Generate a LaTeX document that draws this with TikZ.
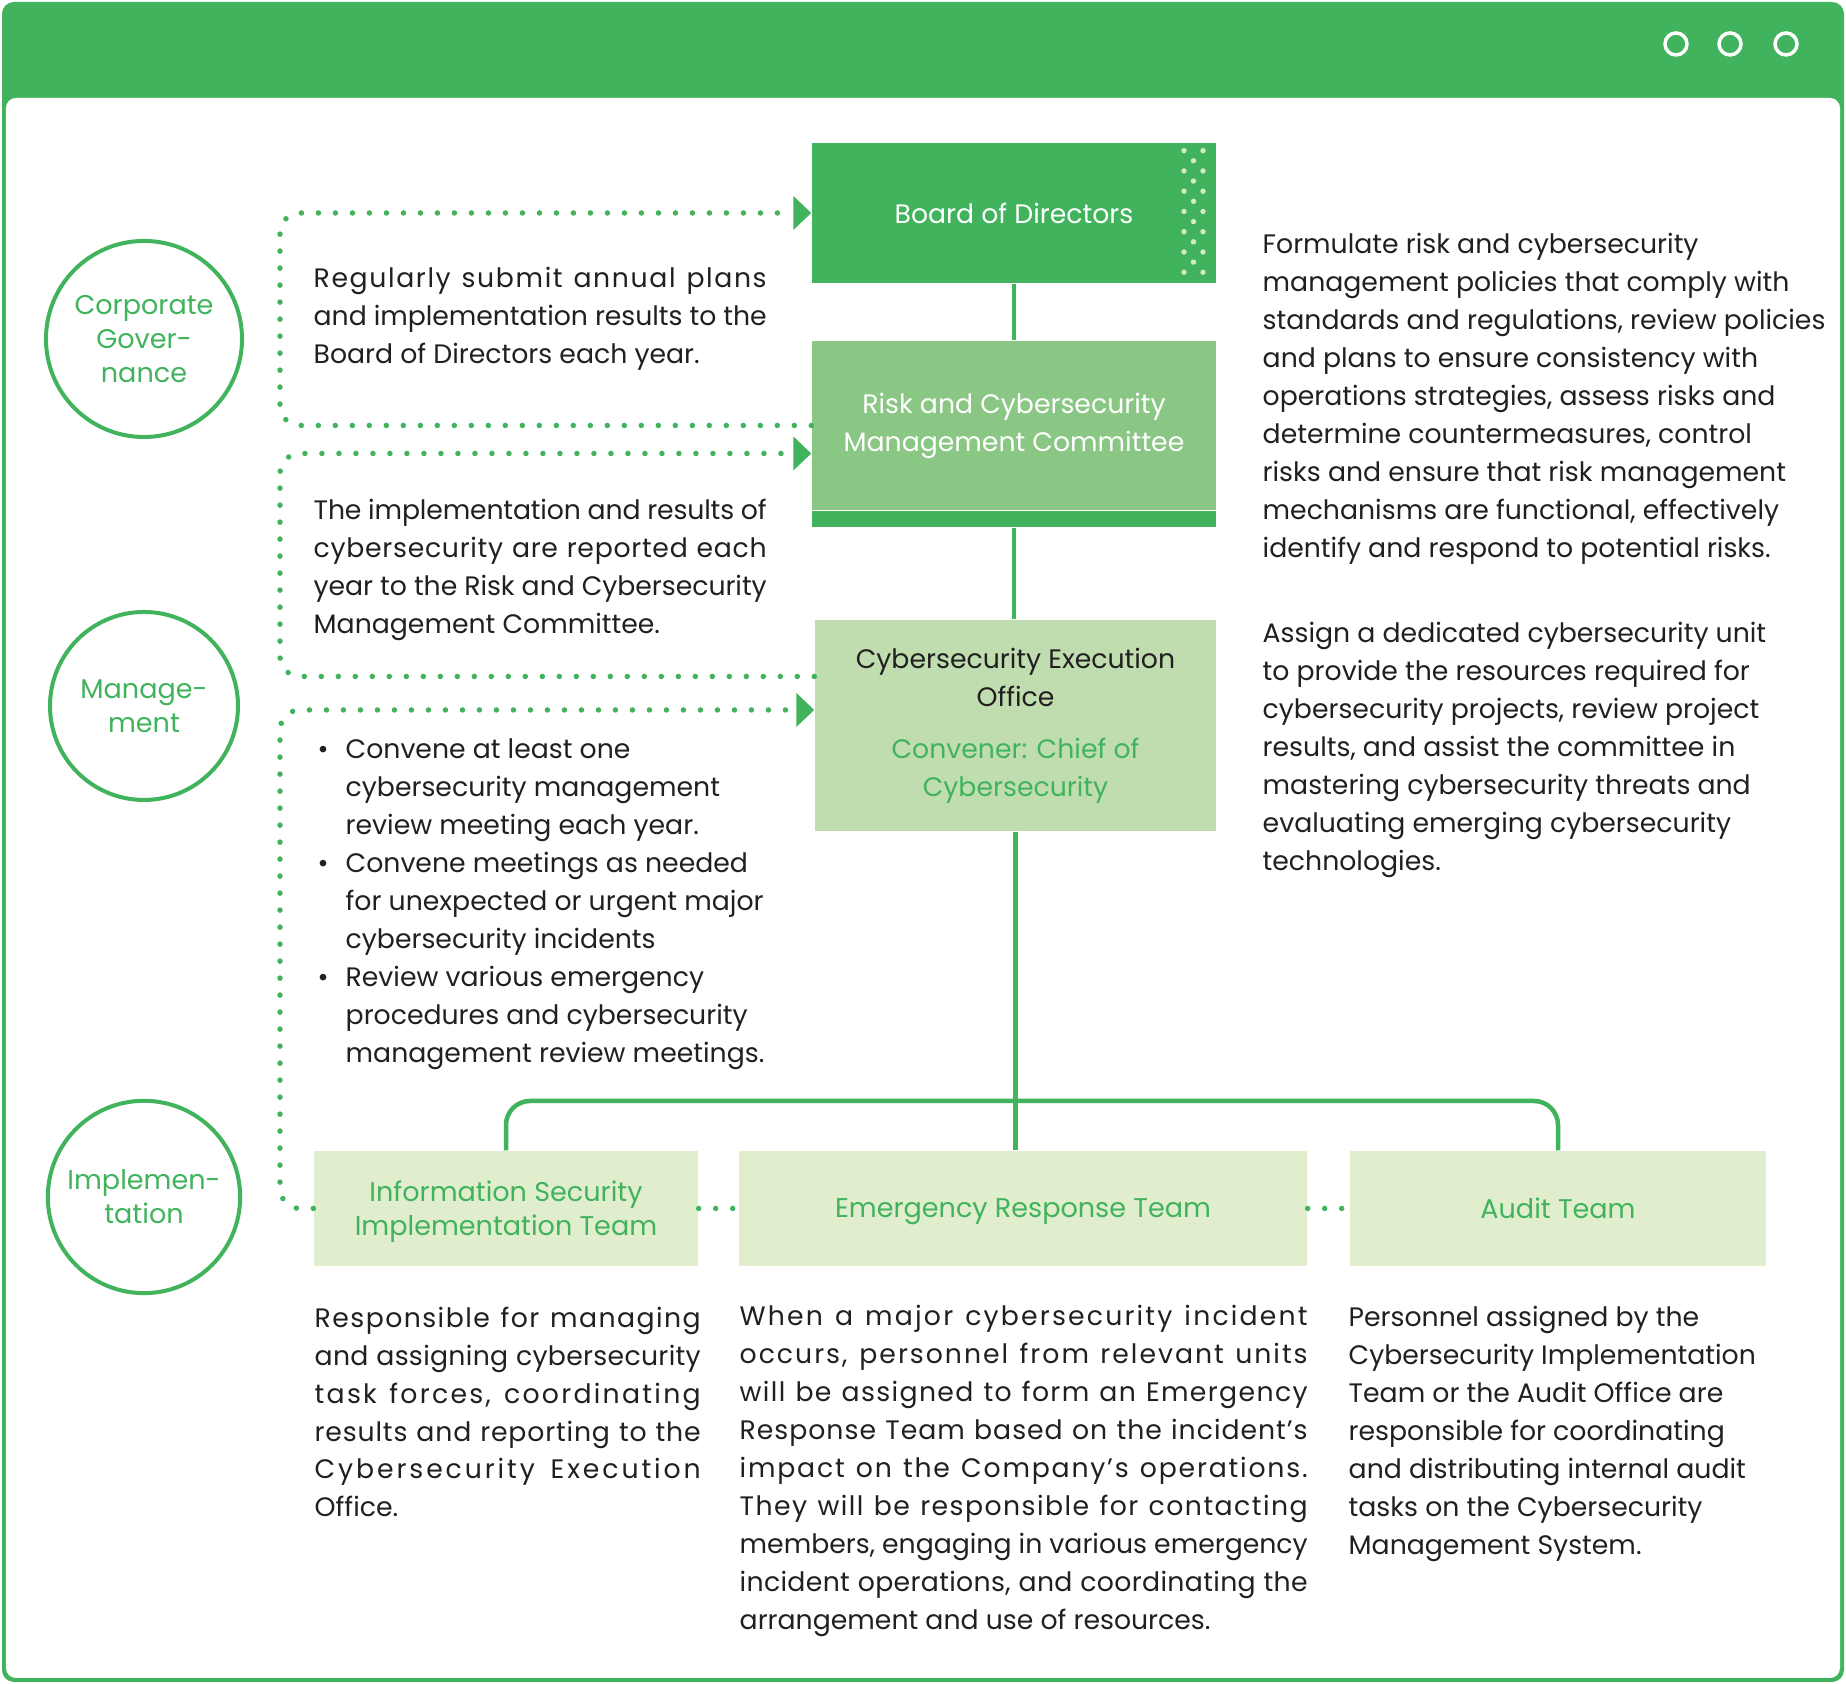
\documentclass[tikz,border=0pt]{standalone}
\usepackage{fontspec}
\setmainfont{Poppins}
\usepackage{tikz}
\usetikzlibrary{positioning,arrows.meta}
\definecolor{MainGreen}{RGB}{65,179,93}
\definecolor{MidGreen}{RGB}{139,199,132}
\definecolor{PaleGreen}{RGB}{192,221,176}
\definecolor{LightGreen}{RGB}{224,238,206}
\definecolor{DotGreen}{RGB}{214,234,196}
\definecolor{TextDark}{RGB}{35,31,32}
\newcommand{\bodyfont}{\fontsize{7.6}{10.8}\selectfont}
\newcommand{\tagfont}{\fontsize{7.7}{9.7}\selectfont}
\ExplSyntaxOn
\cs_new:Npn \jlcount #1 { \str_count:n {#1} }
\ExplSyntaxOff
% justified line, spread by tracking
\newlength{\jlw}
\newcommand{\jl}[2]{%
	\settowidth{\jlw}{#2}%
	\pgfmathsetmacro{\jls}{100*(#1-\jlw)/\jlcount{#2}/7.6}%
	{\addfontfeature{LetterSpace=\jls}\makebox[#1][s]{#2}}}
\newcommand{\bul}{\llap{\textbullet\hspace{0.17cm}}}

\begin{document}
\begin{tikzpicture}[
			board node/.style={
				rectangle, fill=MainGreen, text=white, align=center,
				inner sep=0pt, minimum width=4.04cm, minimum height=1.40cm,
				font=\bodyfont},
			committee node/.style={
				rectangle, fill=MidGreen, text=white, align=center,
				inner sep=0pt, minimum width=4.04cm, minimum height=1.69cm,
				font=\bodyfont},
			bar node/.style={
				rectangle, fill=MainGreen, inner sep=0pt,
				minimum width=4.04cm, minimum height=0.16cm},
			office node/.style={
				rectangle, fill=PaleGreen, text=TextDark, align=center,
				inner sep=0pt, minimum width=4.01cm, minimum height=2.11cm,
				font=\bodyfont},
			team node/.style={
				rectangle, fill=LightGreen, text=MainGreen, align=center,
				inner sep=0pt, minimum height=1.15cm, text depth=0pt,
				font=\tagfont},
			level node/.style={
				circle, draw=MainGreen, line width=0.04cm, text=MainGreen,
				align=center, minimum size=1.88cm, font=\tagfont},
			note node/.style={
				anchor=west, align=left, inner sep=0pt, text=TextDark,
				font=\bodyfont},
			link/.style={draw=MainGreen, line width=0.045cm},
			dots/.style={draw=MainGreen, line width=0.055cm, line cap=round,
				dash pattern=on 0pt off 0.17cm, rounded corners=0.2cm},
			tip/.style={-{Triangle[length=0.18cm,width=0.33cm]}}
			]
			\useasboundingbox (0,0) rectangle (18.46,16.84);
			% window
			\fill[MainGreen, rounded corners=0.12cm] (0.02,0.02) rectangle (18.44,16.82);
			\fill[white, rounded corners=0.1cm] (0.06,0.06) rectangle (18.40,15.86);
			\foreach \x in {16.76,17.30,17.86}
			\draw[white, line width=0.035cm] (\x,16.40) circle (0.11);
			
			\node[board node] (1) at (10.14,14.71) {Board of Directors};
			\node[committee node] (2) at (10.14,12.585)
			{Risk and Cybersecurity\\Management Committee};
			\node[bar node] (3) [below=0pt of 2] {};
			\node[office node] (4) at (10.155,9.585)
			{Cybersecurity Execution\\Office\\[0.14cm]
				\textcolor{MainGreen}{Convener: Chief of}\\
				\textcolor{MainGreen}{Cybersecurity}};
			\node[team node,minimum width=3.84cm] (5) at (5.06,4.755)
			{Information Security\\Implementation Team};
			\node[team node,minimum width=5.68cm] (6) at (10.23,4.755)
			{Emergency Response Team};
			\node[team node,minimum width=4.16cm] (7) at (15.58,4.755)
			{Audit Team};
			\node[level node] (8) at (1.44,13.45) {Corporate\\Gover-\\nance};
			\node[level node] (9) at (1.44,9.78) {Manage-\\ment};
			\node[level node] (10) at (1.44,4.87) {Implemen-\\tation};
			
			% board dots
			\foreach \k in {0,...,12}{
				\pgfmathsetmacro{\y}{15.333-0.1013*\k}
				\ifodd\k
				\fill[DotGreen] (11.935,\y) circle (0.027);
				\else
				\fill[DotGreen] (11.84,\y) circle (0.027) (12.03,\y) circle (0.027);
				\fi
			}
			
			\node[note node] (11) at (3.13,13.65)
			{\jl{4.53cm}{Regularly submit annual plans}\\
				\jl{4.53cm}{and implementation results to the}\\
				Board of Directors each year.};
			\node[note node] (12) at (3.13,11.14)
			{\jl{4.53cm}{The implementation and results of}\\
				\jl{4.53cm}{cybersecurity are reported each}\\
				\jl{4.53cm}{year to the Risk and Cybersecurity}\\
				Management Committee.};
			\node[note node] (13) at (3.45,7.80)
			{\bul Convene at least one\\
				cybersecurity management\\
				review meeting each year.\\
				\bul Convene meetings as needed\\
				for unexpected or urgent major\\
				cybersecurity incidents\\
				\bul Review various emergency\\
				procedures and cybersecurity\\
				management review meetings.};
			\node[note node] (14) at (12.62,12.85)
			{Formulate risk and cybersecurity\\
				management policies that comply with\\
				standards and regulations, review policies\\
				and plans to ensure consistency with\\
				operations strategies, assess risks and\\
				determine countermeasures, control\\
				risks and ensure that risk management\\
				mechanisms are functional, effectively\\
				identify and respond to potential risks.};
			\node[note node] (15) at (12.62,9.34)
			{Assign a dedicated cybersecurity unit\\
				to provide the resources required for\\
				cybersecurity projects, review project\\
				results, and assist the committee in\\
				mastering cybersecurity threats and\\
				evaluating emerging cybersecurity\\
				technologies.};
			\node[note node] (16) at (3.14,2.72)
			{\jl{3.86cm}{Responsible for managing}\\
				\jl{3.86cm}{and assigning cybersecurity}\\
				\jl{3.86cm}{task forces, coordinating}\\
				\jl{3.86cm}{results and reporting to the}\\
				\jl{3.86cm}{Cybersecurity Execution}\\
				Office.};
			\node[note node] (17) at (7.39,2.13)
			{\jl{5.68cm}{When a major cybersecurity incident}\\
				\jl{5.68cm}{occurs, personnel from relevant units}\\
				\jl{5.68cm}{will be assigned to form an Emergency}\\
				\jl{5.68cm}{Response Team based on the incident’s}\\
				\jl{5.68cm}{impact on the Company’s operations.}\\
				\jl{5.68cm}{They will be responsible for contacting}\\
				\jl{5.68cm}{members, engaging in various emergency}\\
				\jl{5.68cm}{incident operations, and coordinating the}\\
				arrangement and use of resources.};
			\node[note node] (18) at (13.48,2.50)
			{Personnel assigned by the\\
				Cybersecurity Implementation\\
				Team or the Audit Office are\\
				responsible for coordinating\\
				and distributing internal audit\\
				tasks on the Cybersecurity\\
				Management System.};
			
			% connectors
			\coordinate (L) at (2.80,0);
			\coordinate (B) at (10.155,5.83);
			\coordinate (in2) at ([yshift=-0.28cm]2.west);
			\coordinate (out4) at ([yshift=0.49cm]4.west);
			\coordinate (in4) at ([yshift=0.155cm]4.west);
			\path
			(1) edge[link] (2)
			(3) edge[link] (3 |- 4.north)
			(4) edge[link] (4 |- 6.north);
			\draw[link, rounded corners=0.24cm] (5.north) |- (B) -| (7.north);
			\draw[dots,tip] (2.west) -| (L |- 1.west) -- (1.west);
			\draw[dots,tip] (out4) -| (L |- in2) -- (in2);
			\draw[dots,tip] (5.west) -| (L |- in4) -- (in4);
			\draw[dots] (5) -- (6);
			\draw[dots] (6) -- (7);
		\end{tikzpicture}
\end{document}
